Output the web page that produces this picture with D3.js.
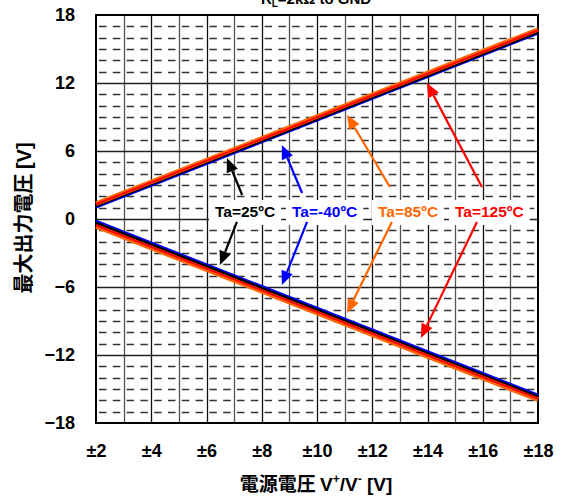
<!DOCTYPE html>
<html><head><meta charset="utf-8">
<script src="https://cdn.jsdelivr.net/npm/d3@7"></script>
<style>
html,body{margin:0;padding:0;background:#fff;}
svg{display:block;}
text{font-family:"Liberation Sans",Arial,sans-serif;font-weight:bold;}
</style></head>
<body><svg id="c" width="563" height="500"></svg>
<script>
// ---- data ----
const supply = [2, 18];                       // ±V supply
const seriesNames = ["Ta=-40ºC", "Ta=25ºC", "Ta=85ºC", "Ta=125ºC"];
const seriesColors = ["#0000FF", "#000000", "#FF6600", "#FF0000"];
const seriesWidths = [3, 3, 4.5, 2];
const drawOrder = [0, 1, 2, 3];
const upperMax = [[1.05, 16.4], [1.15, 16.5], [1.35, 16.72], [1.3, 16.65]];
const lowerMax = [[-0.2, -15.55], [-0.35, -15.7], [-0.65, -15.95], [-0.55, -15.85]];
const xTicks = [2, 4, 6, 8, 10, 12, 14, 16, 18];
const xTickLabels = ["±2", "±4", "±6", "±8", "±10", "±12", "±14", "±16", "±18"];
const yTicks = [-18, -12, -6, 0, 6, 12, 18];
// annotation labels (order: 25, -40, 85, 125)
const annIdx = [1, 0, 2, 3];
const annLabelX = [215, 292, 378, 455];      // text start (px)
const annTailUp = [[7.29, 2.12], [9.46, 2.29], [12.64, 2.82], [15.97, 2.82]];
const annTipUp = [[6.74, 5.38], [8.73, 6.53], [11.09, 9.18], [13.98, 12.0]];
const annTailDn = [[7.10, -0.26], [9.64, -0.26], [12.71, -0.26], [15.79, -0.26]];
const annTipDn = [[6.49, -4.06], [8.73, -5.82], [11.09, -8.29], [13.76, -10.5]];

const svg = d3.select("#c");
const L = 96, R = 538, T = 15, B = 423;
const x = d3.scaleLinear().domain([2, 18]).range([L, R]);
const y = d3.scaleLinear().domain([-18, 18]).range([B, T]);

// title (cut off at top, as in the reference)
const tt = svg.append("text").attr("x", 316).attr("y", 4).attr("text-anchor", "middle")
  .attr("font-size", 15);
tt.append("tspan").text("R");
tt.append("tspan").attr("font-size", 10).attr("dy", 3).text("L");
tt.append("tspan").attr("dy", -3).text("=2kΩ to GND");

const g = svg.append("g");
// dashed minor horizontal grid (every 1 V)
g.selectAll("line.hm").data(d3.range(-17, 18).filter(v => v % 6 !== 0)).join("line")
  .attr("x1", L).attr("x2", R).attr("y1", d => Math.round(y(d)) + 0.5).attr("y2", d => Math.round(y(d)) + 0.5)
  .attr("stroke", "#333").attr("stroke-width", 1.4)
  .attr("stroke-dasharray", "7.5,6.3").attr("stroke-dashoffset", -3);
// vertical grid every 1 V
g.selectAll("line.v").data(d3.range(3, 18)).join("line")
  .attr("y1", T).attr("y2", B).attr("x1", d => Math.round(x(d)) + 0.5).attr("x2", d => Math.round(x(d)) + 0.5)
  .attr("stroke", d => d % 2 === 0 ? "#111" : "#555").attr("stroke-width", 1.3);
// major horizontal grid
g.selectAll("line.hM").data(yTicks.slice(1, -1)).join("line")
  .attr("x1", L).attr("x2", R).attr("y1", d => Math.round(y(d)) + 0.5).attr("y2", d => Math.round(y(d)) + 0.5)
  .attr("stroke", "#222").attr("stroke-width", 1.3);

// frame
svg.append("rect").attr("x", L).attr("y", T).attr("width", R - L).attr("height", B - T)
  .attr("fill", "none").attr("stroke", "#000").attr("stroke-width", 2);

// axes
const yAxis = d3.axisLeft(y).tickValues(yTicks).tickSize(0).tickPadding(21);
const ya = svg.append("g").attr("transform", `translate(${L},0)`).call(yAxis);
ya.select(".domain").remove();
ya.selectAll("text").attr("font-size", 18).attr("fill", "#000")
  .attr("font-family", "'Liberation Sans',Arial,sans-serif").attr("font-weight", "bold");
const xAxis = d3.axisBottom(x).tickValues(xTicks).tickFormat((d, i) => xTickLabels[i]).tickSize(0).tickPadding(21);
const xa = svg.append("g").attr("transform", `translate(0,${B})`).call(xAxis);
xa.select(".domain").remove();
xa.selectAll("text").attr("font-size", 18).attr("fill", "#000")
  .attr("font-family", "'Liberation Sans',Arial,sans-serif").attr("font-weight", "bold");

// axis titles
const xt = svg.append("text").attr("x", 316).attr("y", 491).attr("text-anchor", "middle").attr("font-size", 19);
xt.append("tspan").attr("font-family", "'Noto Sans CJK JP',sans-serif").text("電源電圧 ");
xt.append("tspan").text("V");
xt.append("tspan").attr("font-size", 12).attr("dy", -8).text("+");
xt.append("tspan").attr("dy", 8).text("/V");
xt.append("tspan").attr("font-size", 12).attr("dy", -8).text("-");
xt.append("tspan").attr("dy", 8).text(" [V]");

const yt = svg.append("text").attr("transform", "translate(31,218) rotate(-90)")
  .attr("text-anchor", "middle").attr("font-size", 20);
yt.append("tspan").attr("font-family", "'Noto Sans CJK JP',sans-serif").text("最大出力電圧 ");
yt.append("tspan").text("[V]");

// series lines
const line = d3.line().x(d => x(d[0])).y(d => y(d[1]));
drawOrder.forEach(i => {
  [upperMax[i], lowerMax[i]].forEach(vals => {
    svg.append("path").datum(supply.map((s, k) => [s, vals[k]]))
      .attr("d", line).attr("fill", "none")
      .attr("stroke", seriesColors[i]).attr("stroke-width", seriesWidths[i]);
  });
});

// labels with white boxes
const lab = svg.append("g");
annIdx.forEach((si, k) => {
  const t = lab.append("text").attr("x", annLabelX[k]).attr("y", 217).attr("font-size", 15.5)
    .attr("fill", seriesColors[si]).text(seriesNames[si]);
  const bb = t.node().getBBox();
  lab.insert("rect", "text").attr("x", bb.x - 6).attr("y", 200).attr("width", bb.width + 12)
    .attr("height", 25).attr("fill", "#fff");
});

// arrows
function arrow(tail, tip, color) {
  const x1 = x(tail[0]), y1 = y(tail[1]), x2 = x(tip[0]), y2 = y(tip[1]);
  const ang = Math.atan2(y2 - y1, x2 - x1);
  const hl = 14, hw = 6;
  const bx = x2 - hl * Math.cos(ang), by = y2 - hl * Math.sin(ang);
  svg.append("line").attr("x1", x1).attr("y1", y1).attr("x2", bx).attr("y2", by)
    .attr("stroke", color).attr("stroke-width", 2.2);
  const px = -Math.sin(ang) * hw, py = Math.cos(ang) * hw;
  svg.append("path").attr("d", `M${x2},${y2}L${bx + px},${by + py}L${bx - px},${by - py}Z`).attr("fill", color);
}
annIdx.forEach((si, k) => {
  arrow(annTailUp[k], annTipUp[k], seriesColors[si]);
  arrow(annTailDn[k], annTipDn[k], seriesColors[si]);
});
</script></body></html>
